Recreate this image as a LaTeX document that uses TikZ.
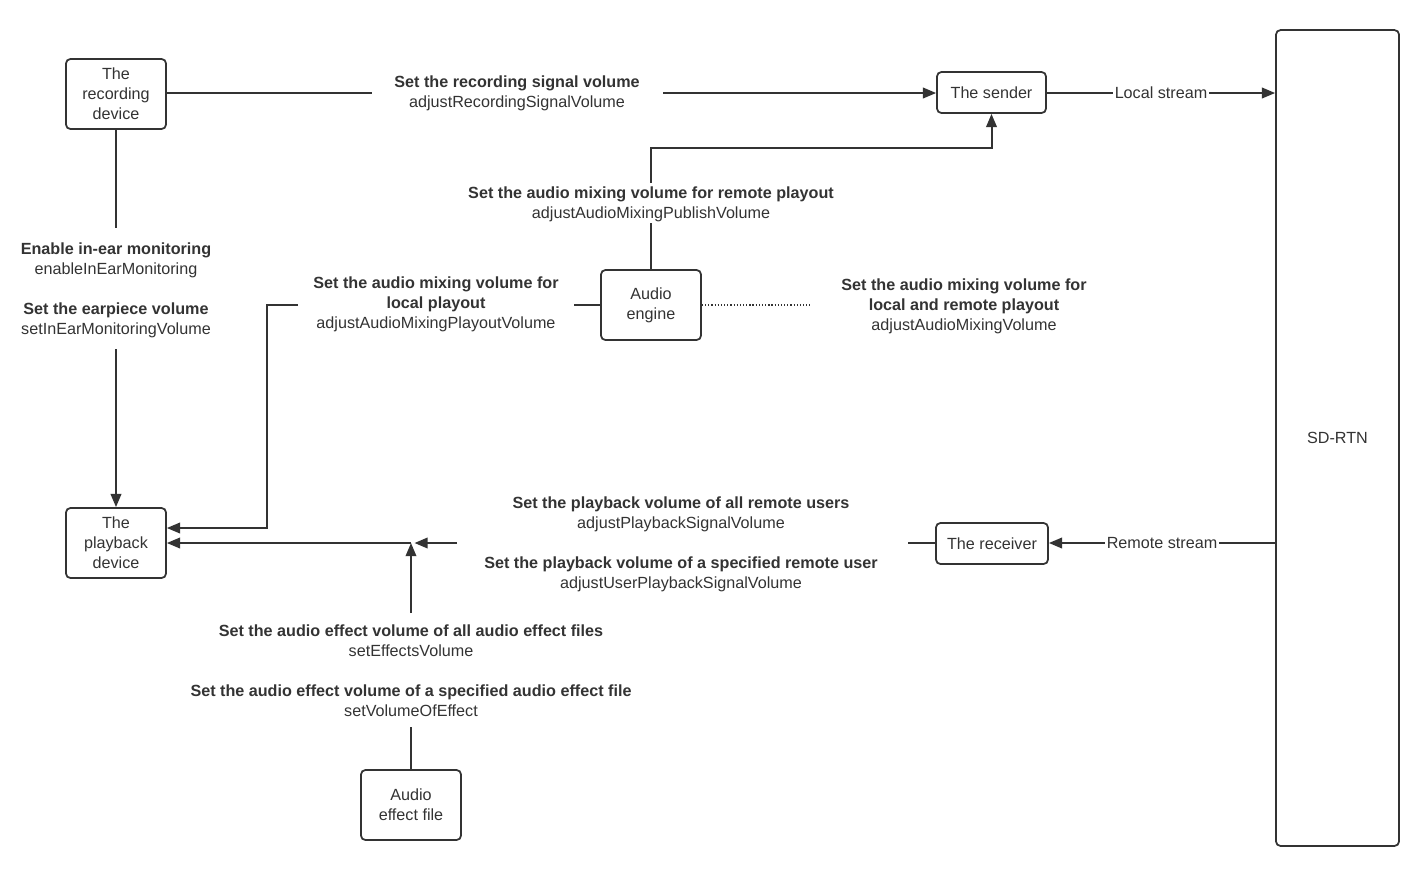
\documentclass[tikz,border=0pt]{standalone}
\usepackage{fontspec}
\setmainfont{Liberation Sans}
\usepackage{tikz}
\usetikzlibrary{arrows.meta, positioning, calc}
\definecolor{mydark}{RGB}{51,51,51}
\newcommand{\lblfont}{\fontsize{9.2}{11.4}\selectfont}
\tikzset{
  devbox/.style={rectangle, draw=mydark, text=mydark, font=\lblfont,
    align=center, rounded corners=2.5pt, line width=1pt, inner sep=0pt,
    minimum width=2cm, minimum height=1.4cm},
  smallbox/.style={devbox, minimum height=0.82cm},
  lbl/.style={align=center, font=\lblfont, text=mydark, inner sep=0pt},
  streamlbl/.style={font=\lblfont, text=mydark, fill=white, inner xsep=1pt, inner ysep=2pt},
  arrow/.style={-{Triangle[length=7.5pt,width=6pt]}, line width=1.15pt, color=mydark},
  line/.style={line width=1.15pt, color=mydark},
  dotline/.style={line width=0.9pt, color=mydark, dash pattern=on 0.7pt off 1.1pt}
}

\begin{document}
\begin{tikzpicture}[x=0.02cm, y=-0.02cm]
  \useasboundingbox (0,0) rectangle (1426,870);

  % Devices and endpoints
  \node[devbox] (rec) at (116,94) {The\\recording\\device};
  \node[devbox] (play) at (116,543) {The\\playback\\device};
  \node[devbox] (engine) at (651,305) {Audio\\engine};
  \node[devbox] (effect) at (411,805) {Audio\\effect file};
  \node[smallbox, minimum width=2.18cm] (sender) at (991.5,92.5) {The sender};
  \node[smallbox, minimum width=2.24cm] (recv) at (992,543.5) {The receiver};
  \node[devbox, minimum width=2.46cm, minimum height=16.32cm] (sdrtn) at (1337.5,438) {SD-RTN};

  % API labels
  \node[lbl] (l1) at (517,93) {\textbf{Set the recording signal volume}\\adjustRecordingSignalVolume};
  \node[lbl] (l2) at (651,204) {\textbf{Set the audio mixing volume for remote playout}\\adjustAudioMixingPublishVolume};
  \node[lbl] (l3) at (116,290) {\textbf{Enable in-ear monitoring}\\enableInEarMonitoring\\[11.4pt]
    \textbf{Set the earpiece volume}\\setInEarMonitoringVolume};
  \node[lbl] (l4) at (436,304) {\textbf{Set the audio mixing volume for}\\\textbf{local playout}\\adjustAudioMixingPlayoutVolume};
  \node[lbl] (l5) at (964,306) {\textbf{Set the audio mixing volume for}\\\textbf{local and remote playout}\\adjustAudioMixingVolume};
  \node[lbl] (l6) at (681,544) {\textbf{Set the playback volume of all remote users}\\adjustPlaybackSignalVolume\\[11.4pt]
    \textbf{Set the playback volume of a specified remote user}\\adjustUserPlaybackSignalVolume};
  \node[lbl] (l7) at (411,671) {\textbf{Set the audio effect volume of all audio effect files}\\setEffectsVolume\\[11.4pt]
    \textbf{Set the audio effect volume of a specified audio effect file}\\setVolumeOfEffect};

  % Free ends of the connectors
  \coordinate (l1w) at (372,93);
  \coordinate (l1e) at (663,93);
  \coordinate (l2s) at (651,223);
  \coordinate (l2n) at (651,183);
  \coordinate (l3n) at (116,228);
  \coordinate (l3s) at (116,349);
  \coordinate (l4e) at (574,305);
  \coordinate (l4w) at (298,305);
  \coordinate (l5w) at (810,305);
  \coordinate (l6e) at (908,543);
  \coordinate (l6w) at (457,543);
  \coordinate (l7s) at (411,727);
  \coordinate (l7n) at (411,613);
  \coordinate (jn) at (411,543);

  % Recording path
  \draw[line] (rec.east |- l1w) -- (l1w);
  \draw[arrow] (l1e) -- (sender.west |- l1e);
  \draw[line] (engine) -- (l2s);
  \draw[arrow] (l2n) -- ++(0,-35) -| (sender.south);
  \draw[arrow] (sender.east |- l1e) -- node[streamlbl] {Local stream} (sdrtn.west |- l1e);

  % In-ear monitoring
  \draw[line] (rec) -- (l3n);
  \draw[arrow] (l3s) -- (play);

  % Audio mixing
  \draw[line] (engine) -- (l4e);
  \draw[arrow] (l4w) -- ++(-31,0) |- ([yshift=0.3cm]play.east);
  \draw[dotline] (engine) -- (l5w);

  % Playback path
  \draw[arrow] (sdrtn.west |- jn) -- node[streamlbl] {Remote stream} (recv.east |- jn);
  \draw[line] (recv.west |- jn) -- (l6e);
  \draw[arrow, shorten >=2pt] (l6w) -- (jn);
  \draw[arrow] (jn) -- (play.east);

  % Audio effects
  \draw[line] (effect) -- (l7s);
  \draw[arrow] (l7n) -- (jn);
\end{tikzpicture}
\end{document}
